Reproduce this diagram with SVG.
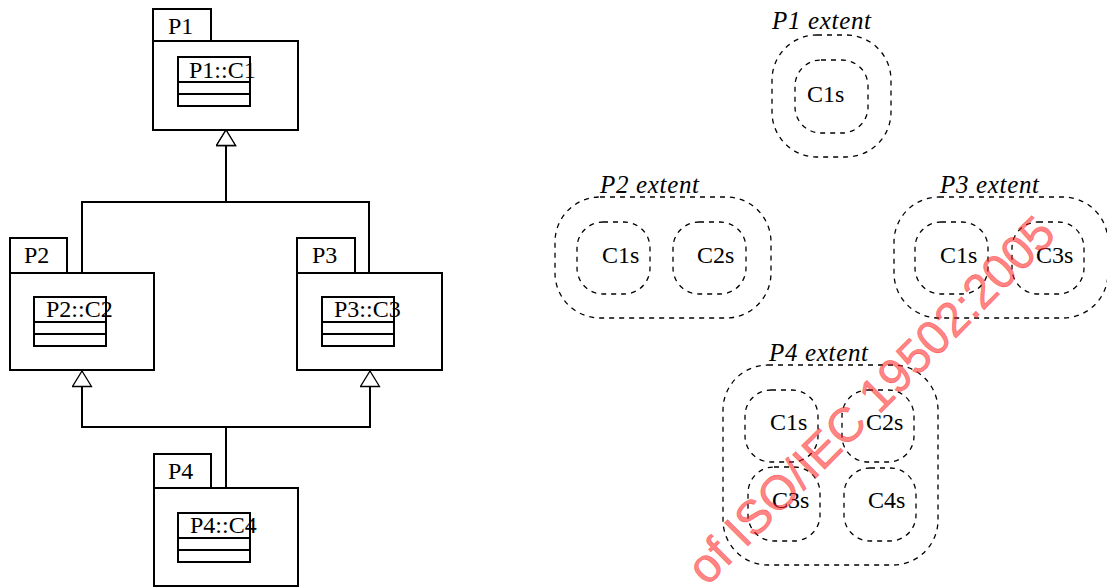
<svg xmlns="http://www.w3.org/2000/svg" width="1107" height="587" viewBox="0 0 1107 587">
<style>
.box{fill:none;stroke:#000;stroke-width:2}
.lbl{font-family:"Liberation Serif","Times New Roman",serif;font-size:24px;fill:#000}
.ext{font-family:"Liberation Serif","Times New Roman",serif;font-size:25px;font-style:italic;fill:#000}
.dash{fill:none;stroke:#000;stroke-width:1.3;stroke-dasharray:5 5}
.edge{fill:none;stroke:#000;stroke-width:2}
.wm{font-family:"Liberation Sans",Arial,sans-serif;font-size:48px;fill:#ff1a1a;fill-opacity:0.55;stroke:#ff1a1a;stroke-opacity:0.55;stroke-width:0.6}
</style>
<defs>
<marker id="gen" markerUnits="userSpaceOnUse" markerWidth="18" markerHeight="22" viewBox="-1 -1 18 22" refX="15.5" refY="9.5" orient="auto">
<path d="M0,0 L15.5,9.5 L0,19 Z" fill="#fff" stroke="#000" stroke-width="1.3"/>
</marker>
</defs>
<rect width="1107" height="587" fill="#fff"/>

<g id="connectors">
<path class="edge" d="M82,273 V202 H226 V130" marker-end="url(#gen)"/>
<path class="edge" d="M369,273 V202 H226 V130" marker-end="url(#gen)"/>
<path class="edge" d="M226,488 V427 H82 V371" marker-end="url(#gen)"/>
<path class="edge" d="M226,488 V427 H370 V371" marker-end="url(#gen)"/>
</g>

<g id="P1">
<rect class="box" x="153" y="9" width="58" height="32"/>
<rect class="box" x="153" y="41" width="145" height="89"/>
<text class="lbl" x="168" y="34">P1</text>
<rect class="box" x="178" y="57" width="72" height="49"/>
<line class="box" x1="178" y1="82" x2="250" y2="82"/>
<line class="box" x1="178" y1="94" x2="250" y2="94"/>
<text class="lbl" x="189" y="78">P1::C1</text>
</g>

<g id="P2">
<rect class="box" x="10" y="238" width="57" height="35"/>
<rect class="box" x="10" y="273" width="144" height="97"/>
<text class="lbl" x="24" y="263">P2</text>
<rect class="box" x="34" y="297" width="72" height="49"/>
<line class="box" x1="34" y1="322" x2="106" y2="322"/>
<line class="box" x1="34" y1="334" x2="106" y2="334"/>
<text class="lbl" x="46" y="317">P2::C2</text>
</g>

<g id="P3">
<rect class="box" x="297" y="238" width="58" height="35"/>
<rect class="box" x="297" y="273" width="145" height="97"/>
<text class="lbl" x="312" y="263">P3</text>
<rect class="box" x="322" y="297" width="72" height="49"/>
<line class="box" x1="322" y1="322" x2="394" y2="322"/>
<line class="box" x1="322" y1="334" x2="394" y2="334"/>
<text class="lbl" x="334" y="317">P3::C3</text>
</g>

<g id="P4">
<rect class="box" x="154" y="454" width="57" height="34"/>
<rect class="box" x="154" y="488" width="144" height="98"/>
<text class="lbl" x="168" y="479">P4</text>
<rect class="box" x="178" y="513" width="72" height="49"/>
<line class="box" x1="178" y1="538" x2="250" y2="538"/>
<line class="box" x1="178" y1="550" x2="250" y2="550"/>
<text class="lbl" x="190" y="533">P4::C4</text>
</g>

<g id="P1-extent">
<text class="ext" x="772" y="29" textLength="99" lengthAdjust="spacing">P1 extent</text>
<rect class="dash" x="772" y="35" width="119" height="122" rx="45" ry="45"/>
<rect class="dash" x="795" y="60" width="73" height="73" rx="26" ry="26"/>
<text class="lbl" x="807" y="102">C1s</text>
</g>

<g id="P2-extent">
<text class="ext" x="600" y="193" textLength="99" lengthAdjust="spacing">P2 extent</text>
<rect class="dash" x="555" y="197" width="216" height="121" rx="45" ry="45"/>
<rect class="dash" x="577" y="222" width="73" height="72" rx="26" ry="26"/>
<text class="lbl" x="602" y="263">C1s</text>
<rect class="dash" x="673" y="222" width="73" height="72" rx="26" ry="26"/>
<text class="lbl" x="697" y="263">C2s</text>
</g>

<g id="P3-extent">
<text class="ext" x="940" y="193" textLength="99" lengthAdjust="spacing">P3 extent</text>
<rect class="dash" x="894" y="197" width="214" height="121" rx="45" ry="45"/>
<rect class="dash" x="915" y="222" width="73" height="72" rx="26" ry="26"/>
<text class="lbl" x="940" y="263">C1s</text>
<rect class="dash" x="1012" y="222" width="72" height="72" rx="26" ry="26"/>
<text class="lbl" x="1036" y="263">C3s</text>
</g>

<g id="P4-extent">
<text class="ext" x="769" y="361" textLength="99" lengthAdjust="spacing">P4 extent</text>
<rect class="dash" x="723" y="365" width="215" height="200" rx="45" ry="45"/>
<rect class="dash" x="745" y="390" width="73" height="72" rx="26" ry="26"/>
<text class="lbl" x="770" y="430">C1s</text>
<rect class="dash" x="842" y="390" width="72" height="72" rx="26" ry="26"/>
<text class="lbl" x="866" y="430">C2s</text>
<rect class="dash" x="748" y="467" width="72" height="74" rx="26" ry="26"/>
<text class="lbl" x="772" y="508">C3s</text>
<rect class="dash" x="844" y="468" width="72" height="73" rx="26" ry="26"/>
<text class="lbl" x="868" y="508">C4s</text>
</g>

<g id="watermark">
<text class="wm" transform="translate(707,587) rotate(-45)">of ISO/IEC 19502:2005</text>
</g>
</svg>
